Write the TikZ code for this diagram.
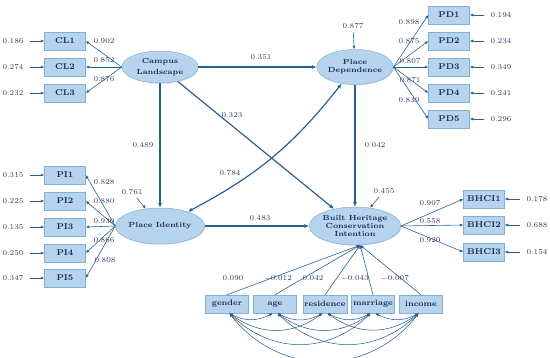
\documentclass[tikz,border=0pt]{standalone}
\usepackage{tikz}
\usetikzlibrary{arrows.meta,shapes.geometric,shadows}
\definecolor{boxfill}{RGB}{182,212,237}
\definecolor{boxline}{RGB}{130,175,210}
\definecolor{pathcol}{RGB}{38,96,146}
\definecolor{txtcol}{RGB}{26,40,86}
\definecolor{numcol}{RGB}{52,62,94}

\begin{document}
\begin{tikzpicture}[x=0.03cm,y=-0.03cm,
    indicator/.style={rectangle,draw=boxline,fill=boxfill,minimum width=1.23cm,minimum height=0.54cm,
                      inner sep=1pt,font=\fontsize{7.2}{8}\selectfont\bfseries,text=txtcol,
                      drop shadow={shadow xshift=0.8pt,shadow yshift=-0.8pt,fill=black!45,opacity=0.5}},
    control/.style={indicator,minimum width=1.29cm,font=\fontsize{6.8}{8}\selectfont\bfseries},
    latent/.style={ellipse,draw=boxline,fill=boxfill,inner sep=0pt,align=center,text=txtcol,
                   font=\fontsize{6.3}{7}\selectfont\bfseries,
                   drop shadow={shadow xshift=0.6pt,shadow yshift=-0.6pt,fill=black!35,opacity=0.4}},
    num/.style={font=\fontsize{6.4}{7}\selectfont,text=numcol,inner sep=1pt},
    effect/.style={draw=pathcol,line width=1pt,>={Latex[length=4pt,width=3.5pt]},->},
    load/.style={draw=pathcol,line width=0.5pt,>={Latex[length=3pt,width=2.6pt]},->},
    cov/.style={draw=pathcol,line width=0.45pt,>={Latex[length=3pt,width=2.6pt]},<->}
]
\useasboundingbox (0,0) rectangle (550,358);

% latent constructs
\node[latent,minimum width=2.28cm,minimum height=0.96cm] (cl)   at (160,67)  {Campus\\[3pt]Landscape};
\node[latent,minimum width=2.16cm,minimum height=1.05cm] (pd)   at (355,67)  {Place\\Dependence};
\node[latent,minimum width=2.31cm,minimum height=1.08cm] (pi)   at (160,226) {Place Identity};
\node[latent,minimum width=2.34cm,minimum height=1.14cm] (bhci) at (355,226) {Built Heritage\\Conservation\\Intention};

% indicators with error terms
\foreach \n/\t/\y/\e in {cl1/CL1/41/0.186, cl2/CL2/67/0.274, cl3/CL3/93/0.232,
                         pi1/PI1/175/0.315, pi2/PI2/201/0.225, pi3/PI3/227/0.135, pi4/PI4/253/0.250, pi5/PI5/278/0.347}{
  \node[indicator] (\n) at (65,\y) {\t};
  \node[num] (e\n) at (13,\y) {\e};
  \draw[load,shorten <=4pt] (e\n) -- (\n);
}
\foreach \n/\t/\y/\e in {pd1/PD1/15/0.194, pd2/PD2/41/0.234, pd3/PD3/67/0.349, pd4/PD4/93/0.241, pd5/PD5/119/0.296}{
  \node[indicator] (\n) at (449,\y) {\t};
  \node[num] (e\n) at (501,\y) {\e};
  \draw[load,shorten <=4pt] (e\n) -- (\n);
}
\foreach \n/\t/\y/\e in {bh1/BHCI1/199/0.178, bh2/BHCI2/225/0.688, bh3/BHCI3/252/0.154}{
  \node[indicator] (\n) at (484,\y) {\t};
  \node[num] (e\n) at (537,\y) {\e};
  \draw[load,shorten <=4pt] (e\n) -- (\n);
}

% loadings
\foreach \n/\v/\x/\y in {cl1/0.902/104/41, cl2/0.852/104/60, cl3/0.876/104/79}{
  \draw[load] (cl.west) -- (\n.east);
  \node[num] (l\n) at (\x,\y) {\v};
}
\foreach \n/\v/\x/\y in {pi1/0.828/104/182, pi2/0.880/104/201, pi3/0.930/104/221, pi4/0.866/104/240, pi5/0.808/105/260}{
  \draw[load] (pi.west) -- (\n.east);
  \node[num] (l\n) at (\x,\y) {\v};
}
\foreach \n/\v/\x/\y in {pd1/0.898/409/22, pd2/0.875/409/41, pd3/0.807/410/61, pd4/0.871/410/80, pd5/0.839/409/100}{
  \draw[load] (pd.east) -- (\n.west);
  \node[num] (l\n) at (\x,\y) {\v};
}
\foreach \n/\v/\x/\y in {bh1/0.907/430/203, bh2/0.558/430/221, bh3/0.920/430/240}{
  \draw[load] (bhci.east) -- (\n.west);
  \node[num] (l\n) at (\x,\y) {\v};
}

% structural paths
\draw[effect] (cl) -- (pd);
\draw[effect] (cl) -- (pi);
\draw[effect] (cl) -- (bhci);
\draw[effect] (pd) -- (bhci);
\draw[effect] (pi) -- (bhci);
\draw[effect,<->] (pi) to[bend right=12] (pd);
\node[num] (b1) at (261,57)  {0.351};
\node[num] (b2) at (143,145) {0.489};
\node[num] (b3) at (232,115) {0.323};
\node[num] (b4) at (375,145) {0.042};
\node[num] (b5) at (260,218) {0.483};
\node[num] (b6) at (230,173) {0.784};

% residual variances
\node[num] (rpd) at (353,26)  {0.877};
\node[num] (rpi) at (132,192) {0.761};
\node[num] (rbh) at (384,191) {0.455};
\draw[load,shorten <=2pt] (rpd) -- (pd);
\draw[load,shorten <=2pt] (rpi) -- (pi);
\draw[load,shorten <=2pt] (rbh) -- (bhci);

% control variables
\node[control] (c1) at (227,304) {gender};
\node[control] (c2) at (275,304) {age};
\node[control] (c3) at (325,304) {residence};
\node[control] (c4) at (373,304) {marriage};
\node[control] (c5) at (421,304) {income};
\foreach \c/\v/\x in {c1/0.090/233, c2/$-$0.012/278, c3/0.042/313, c4/$-$0.043/355, c5/$-$0.007/395}{
  \draw[load] (\c.north) -- (bhci.-75);
  \node[num] (l\c) at (\x,278) {\v};
}
\foreach \i in {1,...,4}{
  \pgfmathtruncatemacro\nx{\i+1}
  \foreach \j in {\nx,...,5}{
    \pgfmathtruncatemacro\bnd{20+8*(\j-\i)}
    \pgfmathsetmacro\lsn{1+0.025*(\j-\i)}
    \draw[cov] ([xshift=2pt]c\i.south) to[bend right=\bnd,looseness=\lsn] ([xshift=-2pt]c\j.south);
  }
}
\end{tikzpicture}
\end{document}
